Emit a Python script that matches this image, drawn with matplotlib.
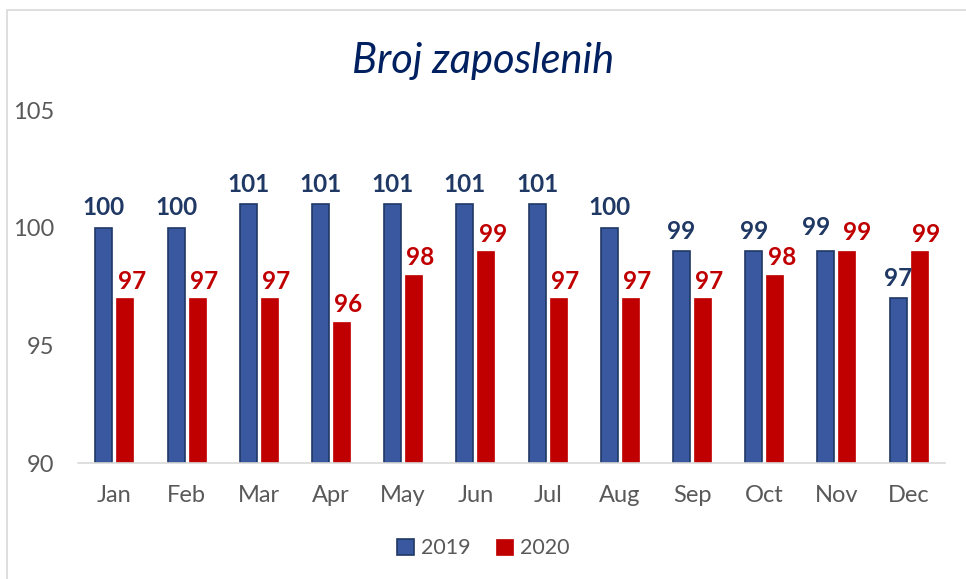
import matplotlib.pyplot as plt
import numpy as np

# data
months = ['Jan', 'Feb', 'Mar', 'Apr', 'May', 'Jun', 'Jul', 'Aug', 'Sep', 'Oct', 'Nov', 'Dec']
y2019 = [100, 100, 101, 101, 101, 101, 101, 100, 99, 99, 99, 97]
y2020 = [97, 97, 97, 96, 98, 99, 97, 97, 97, 98, 99, 99]

blue = '#3A58A0'
blue_edge = '#1F3864'
blue_txt = '#1F3864'
red = '#C00000'
grey = '#595959'

plt.rcParams['font.family'] = ['Lato', 'DejaVu Sans']

fig = plt.figure(figsize=(9.66, 5.79), dpi=100)
ax = fig.add_axes([0.081, 0.2, 0.897, 0.61])

x = np.arange(len(months))
w = 0.235
off = 0.145
b1 = ax.bar(x - off, np.array(y2019) - 90, w, bottom=90, color=blue,
            edgecolor=blue_edge, linewidth=1.2, label='2019')
b2 = ax.bar(x + off, np.array(y2020) - 90, w, bottom=90, color=red,
            edgecolor=red, linewidth=0.5, label='2020')

# labels were nudged by hand in the original where they would collide (Nov)
for i, (xi, v) in enumerate(zip(x, y2019)):
    dx, dy = (-7, 9) if months[i] == 'Nov' else (0, 6)
    ax.annotate(str(v), (xi - off, v), xytext=(dx, dy), textcoords='offset points',
                ha='center', va='bottom', fontsize=17.5, fontweight='bold', color=blue_txt)
for i, (xi, v) in enumerate(zip(x, y2020)):
    dx, dy = (7, 5) if months[i] == 'Nov' else (5, 4)
    ax.annotate(str(v), (xi + off, v), xytext=(dx, dy), textcoords='offset points',
                ha='center', va='bottom', fontsize=17.5, fontweight='bold', color=red)

ax.set_ylim(90, 105)
ax.set_yticks([90, 95, 100, 105])
ax.set_xlim(-0.5, len(months) - 0.5)
ax.set_xticks(x)
ax.set_xticklabels(months)
ax.tick_params(axis='both', length=0, labelsize=17, colors=grey)
ax.tick_params(axis='x', pad=16)
ax.tick_params(axis='y', pad=17)
for s in ['top', 'right', 'left']:
    ax.spines[s].set_visible(False)
ax.spines['bottom'].set_color('#D9D9D9')
ax.spines['bottom'].set_linewidth(1.2)

fig.text(0.5, 0.895, 'Broj zaposlenih', ha='center', va='center', fontsize=30,
         style='italic', color='#002060')

fig.legend(handles=[b1, b2], loc='center', bbox_to_anchor=(0.5, 0.053), ncol=2,
           frameon=False, fontsize=15.5, labelcolor=grey, handlelength=0.8,
           handleheight=0.8, handletextpad=0.3, columnspacing=1.2)

# chart border
fig.patches.append(plt.Rectangle((0.007, -0.1), 1.2, 1.082, transform=fig.transFigure,
                                 fill=False, edgecolor='#D9D9D9', linewidth=1.2))

fig.savefig('out.png', dpi=100)
